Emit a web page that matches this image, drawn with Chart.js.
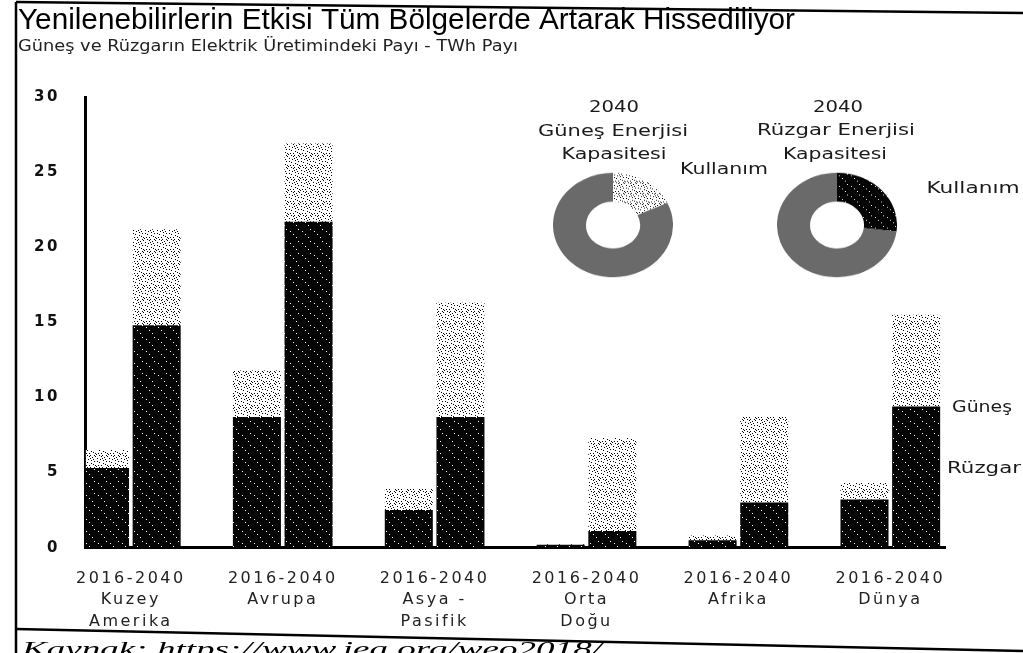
<!DOCTYPE html>
<html><head><meta charset="utf-8">
<script src="https://cdn.jsdelivr.net/npm/chart.js@4.4.1/dist/chart.umd.min.js"></script>
<style>
html,body{margin:0;padding:0;background:#fff;overflow:hidden}
#wrap{position:relative;width:1023px;height:653px}
#main{position:absolute;left:0;top:0}
.donut{position:absolute;transform:scaleY(0.87);transform-origin:center center}
</style></head><body>
<div id="wrap">
<canvas id="main" width="1023" height="653"></canvas>
<canvas id="d1" class="donut" width="120" height="120" style="left:553px;top:165px"></canvas>
<canvas id="d2" class="donut" width="120" height="120" style="left:777px;top:165px"></canvas>
</div>
<script>
// ---- data ----
const categories = [
  ['2016-2040','Kuzey','Amerika'],
  ['2016-2040','Avrupa'],
  ['2016-2040','Asya -','Pasifik'],
  ['2016-2040','Orta','Doğu'],
  ['2016-2040','Afrika'],
  ['2016-2040','Dünya']
];
const wind2016  = [5.3, 8.7, 2.5, 0.2, 0.5, 3.2];
const solar2016 = [1.2, 3.1, 1.4, 0.05, 0.3, 1.1];
const wind2040  = [14.8, 21.7, 8.7, 1.1, 3.0, 9.4];
const solar2040 = [6.4, 5.2, 7.6, 6.2, 5.7, 6.1];
const yTickValues = [0, 5, 10, 15, 20, 25, 30];
const donutParts = ['Kullanım', 'Kapasite'];
const solarDonutValues = [18, 82];
const windDonutValues  = [27, 73];

// ---- texture helpers (style only) ----
const lightDots = [[1,2],[5,0],[9,3],[3,6],[7,7],[11,9],[0,10],[6,11],[10,5],[2,9],[8,1],[4,3],[11,0],[5,9],[9,8],[1,5],[7,4],[3,11],[10,11],[6,2]];
const darkDots = [[2,3],[8,9],[10,1],[5,6]];
function makePattern(ctx, bg, fg, dots) {
  const c = document.createElement('canvas'); c.width = 12; c.height = 12;
  const g = c.getContext('2d');
  g.fillStyle = bg; g.fillRect(0, 0, 12, 12);
  g.fillStyle = fg; dots.forEach(([x, y]) => g.fillRect(x, y, 1, 1));
  return ctx.createPattern(c, 'repeat');
}
function fitText(ctx, text, x, y, w, font, align, color) {
  ctx.save();
  ctx.letterSpacing = '0px';
  ctx.font = font;
  ctx.fillStyle = color || '#1a1a1a';
  ctx.textBaseline = 'middle';
  const m = ctx.measureText(text).width;
  const s = w / m;
  ctx.translate(x, y); ctx.scale(s, 1);
  ctx.textAlign = align || 'center';
  ctx.fillText(text, 0, 0);
  ctx.restore();
}

const mainCtx = document.getElementById('main').getContext('2d');
const SOLAR = makePattern(mainCtx, '#ffffff', '#000000', lightDots);
const WIND = makePattern(mainCtx, '#050505', '#ffffff', darkDots);

const decor = {
  id: 'decor',
  beforeLayout(chart) { chart.ctx.letterSpacing = '2.5px'; },
  beforeDraw(chart) {
    const c = chart.ctx;
    c.save(); c.fillStyle = '#fff'; c.fillRect(0, 0, chart.width, chart.height); c.restore();
    c.letterSpacing = '2.5px';
  },
  afterDraw(chart) {
    const c = chart.ctx;
    const T = '"DejaVu Sans", sans-serif';
    // frame
    c.save();
    c.strokeStyle = '#000'; c.lineWidth = 2.5;
    c.beginPath(); c.moveTo(16, 2); c.lineTo(1023, 13); c.stroke();
    c.beginPath(); c.moveTo(16, 2); c.lineTo(16, 653); c.stroke();
    c.beginPath(); c.moveTo(16, 629); c.lineTo(1023, 651); c.stroke();
    c.restore();
    // title & subtitle
    fitText(c, 'Yenilenebilirlerin Etkisi Tüm Bölgelerde Artarak Hissediliyor', 18, 21, 777, '30px "Liberation Sans", sans-serif', 'left', '#000');
    fitText(c, 'Güneş ve Rüzgarın Elektrik Üretimindeki Payı - TWh Payı', 18, 47, 500, '15px ' + T, 'left', '#222');
    // donut captions
    fitText(c, '2040', 614, 108, 50, '15px ' + T);
    fitText(c, 'Güneş Enerjisi', 613, 132, 150, '15px ' + T);
    fitText(c, 'Kapasitesi', 614, 155, 105, '15px ' + T);
    fitText(c, 'Kullanım', 724, 170, 88, '15px ' + T);
    fitText(c, '2040', 838, 108, 50, '15px ' + T);
    fitText(c, 'Rüzgar Enerjisi', 836, 131, 158, '15px ' + T);
    fitText(c, 'Kapasitesi', 835, 155, 104, '15px ' + T);
    fitText(c, 'Kullanım', 973, 189, 93, '15px ' + T);
    // series labels
    fitText(c, 'Güneş', 952, 408, 60, '15px ' + T, 'left');
    fitText(c, 'Rüzgar', 947, 469, 74, '15px ' + T, 'left');
    // source
    fitText(c, 'Kaynak: https://www.iea.org/weo2018/', 22, 650, 580, 'italic 22px "Liberation Serif", serif', 'left', '#000');
  }
};

new Chart(mainCtx, {
  type: 'bar',
  data: {
    labels: categories.map((_, i) => i),
    datasets: [
      { label: 'Rüzgar 2016', data: wind2016, stack: '2016', backgroundColor: WIND },
      { label: 'Güneş 2016', data: solar2016, stack: '2016', backgroundColor: SOLAR },
      { label: 'Rüzgar 2040', data: wind2040, stack: '2040', backgroundColor: WIND },
      { label: 'Güneş 2040', data: solar2040, stack: '2040', backgroundColor: SOLAR }
    ]
  },
  options: {
    responsive: false, animation: false, devicePixelRatio: 1, events: [],
    layout: { padding: { left: 8, right: 78, top: 97, bottom: 0 } },
    categoryPercentage: 0.68, barPercentage: 0.93,
    plugins: { legend: { display: false }, tooltip: { enabled: false }, title: { display: false } },
    scales: {
      x: {
        type: 'linear', min: -0.296, max: 5.36, offset: false,
        grid: { display: false, drawTicks: false, offset: false },
        border: { display: true, color: '#000', width: 3 },
        afterBuildTicks(s) { s.ticks = categories.map((_, i) => ({ value: i })); },
        ticks: {
          autoSkip: false, maxRotation: 0, minRotation: 0, padding: 21, color: '#222',
          font: { family: '"DejaVu Sans", sans-serif', size: 16, lineHeight: 1.32 },
          callback: (v) => categories[v] || ''
        }
      },
      y: {
        min: 0, max: 30, stacked: true,
        grid: { display: false, drawTicks: false },
        border: { display: true, color: '#000', width: 3 },
        afterBuildTicks(s) { s.ticks = yTickValues.map(v => ({ value: v })); },
        ticks: { padding: 26, color: '#111', font: { family: '"DejaVu Sans", sans-serif', size: 15, weight: 'bold' } }
      }
    }
  },
  plugins: [decor]
});

function donut(id, values, colors) {
  const ctx = document.getElementById(id).getContext('2d');
  new Chart(ctx, {
    type: 'doughnut',
    data: { labels: donutParts, datasets: [{ data: values, backgroundColor: colors(ctx), borderWidth: 0, hoverOffset: 0 }] },
    options: {
      responsive: false, animation: false, devicePixelRatio: 1, events: [], cutout: '45%',
      plugins: { legend: { display: false }, tooltip: { enabled: false } }
    }
  });
}
donut('d1', solarDonutValues, (ctx) => [makePattern(ctx, '#ffffff', '#000000', lightDots), '#6a6a6a']);
donut('d2', windDonutValues, (ctx) => [makePattern(ctx, '#050505', '#ffffff', darkDots), '#6a6a6a']);
</script>
</body></html>
